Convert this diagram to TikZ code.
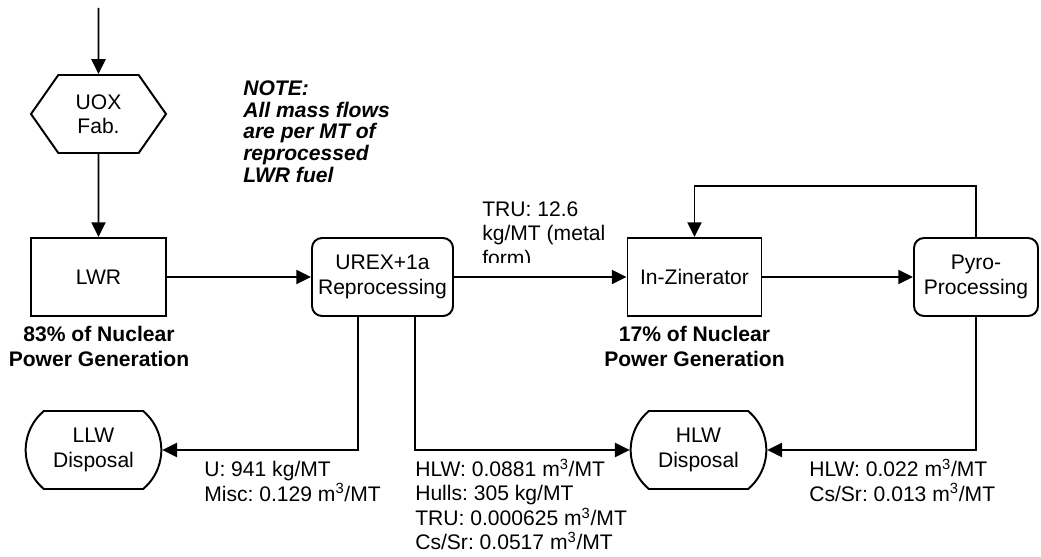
\documentclass[tikz,border=0pt]{standalone}
\usepackage{fontspec}
\setmainfont{Liberation Sans}
\usetikzlibrary{arrows.meta,positioning,calc,shapes.misc,shapes.symbols}
\definecolor{Canvas}{HTML}{FFFFFF}
\definecolor{Ink}{HTML}{000000}
\tikzset{reactor/.style={rectangle,draw=Ink,line width=1.4pt,fill=Canvas,minimum width=3.375cm,minimum height=1.95cm,align=center,text=Ink},process/.style={rectangle,rounded corners=0.25cm,draw=Ink,line width=1.4pt,fill=Canvas,minimum height=1.95cm,align=center,text=Ink,inner sep=0pt},fab/.style={signal,signal to=west and east,signal pointer angle=110,draw=Ink,line width=1.4pt,fill=Canvas,minimum width=3.375cm,minimum height=1.95cm,align=center,text=Ink},disposal/.style={rounded rectangle,rounded rectangle arc length=100,draw=Ink,line width=1.4pt,fill=Canvas,minimum width=3.625cm,minimum height=1.95cm,align=center,text=Ink},flow/.style={draw=Ink,line width=1.4pt,-{Triangle[length=10.5pt,width=10pt]}},flowlabel/.style={anchor=base west,align=left,inner sep=0pt,text=Ink},sharelabel/.style={anchor=base,align=center,inner sep=0pt,text=Ink,font={\fontsize{15pt}{17.6pt}\selectfont\frenchspacing\bfseries}}}

\begin{document}
\begin{tikzpicture}[font={\fontsize{15pt}{17.4pt}\selectfont\frenchspacing},x=1cm,y=1cm]
\fill[Canvas] (0,0) rectangle (26.025,13.9);
\useasboundingbox (0,0) rectangle (26.025,13.9);
\coordinate (feed) at (2.4625,13.70);
\node[fab] (UOX) at (2.4625,11.05) {UOX\\Fab.};
\node[reactor] (LWR) at (2.4625,6.975) {LWR};
\node[process,minimum width=3.525cm] (UREX) at (9.5625,6.975) {UREX+1a\\Reprocessing};
\node[reactor,minimum width=3.35cm] (InZ) at (17.3625,6.975) {In-Zinerator};
\node[process,minimum width=3.1cm] (Pyro) at (24.4,6.975) {Pyro-\\Processing};
\node[disposal] (LLW) at (2.3375,2.65) {LLW\\Disposal};
\node[disposal] (HLW) at (17.4625,2.65) {HLW\\Disposal};
\draw[flow] (feed) -- (UOX);
\draw[flow] (UOX) -- (LWR);
\draw[flow] (LWR) -- (UREX);
\draw[flow] (UREX) -- (InZ);
\draw[flow] (InZ) -- (Pyro);
\draw[flow] (Pyro.north) -- ++(0,1.275) -| (InZ.north);
\draw[flow] ($(UREX.south)+(-0.6125,0)$) |- (LLW.east);
\draw[flow] ($(UREX.south)+(0.8125,0)$) |- (HLW.west);
\draw[flow] (Pyro.south) |- (HLW.east);
% shares of generation
\node[sharelabel] (lwrshare) at (2.475,4.74) {83\% of Nuclear\\Power Generation};
\node[sharelabel] (inzshare) at (17.3625,4.74) {17\% of Nuclear\\Power Generation};
\node[flowlabel,font={\fontsize{15pt}{15.4pt}\selectfont\frenchspacing\bfseries\itshape}] (note) at (6.075,9.35) {NOTE:\\All mass flows\\are per MT of\\reprocessed\\LWR fuel};
\begin{scope}
\clip (11.9,7.35) rectangle (16,9.4);
\node[flowlabel] (trulabel) at (12.05,7.265) {TRU: 12.6\\kg/MT (metal\\form)};
\end{scope}
\node[flowlabel] (llwlabel) at (5.1,1.375) {U: 941 kg/MT\\Misc: 0.129 m\textsuperscript{3}/MT};
\node[flowlabel] (hlwlabel) at (10.375,0.1525) {HLW: 0.0881 m\textsuperscript{3}/MT\\Hulls: 305 kg/MT\\TRU: 0.000625 m\textsuperscript{3}/MT\\Cs/Sr: 0.0517 m\textsuperscript{3}/MT};
\node[flowlabel] (pyrolabel) at (20.225,1.375) {HLW: 0.022 m\textsuperscript{3}/MT\\Cs/Sr: 0.013 m\textsuperscript{3}/MT};
\end{tikzpicture}
\end{document}
